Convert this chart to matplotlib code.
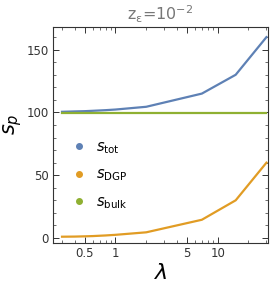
import matplotlib
matplotlib.use('Agg')
import matplotlib.pyplot as plt
from matplotlib.ticker import LogLocator, FixedLocator, NullFormatter, MultipleLocator
from matplotlib.lines import Line2D

# lambda values and entropies
lam = [0.3, 0.4, 0.5, 0.6, 0.8, 1, 2, 7, 15, 30]
s_dgp = [1.0, 1.1, 1.3, 1.5, 2.0, 2.5, 4.5, 14.5, 30, 60]
s_tot = [100.5, 100.8, 101.0, 101.3, 101.8, 102.3, 104.5, 115, 130, 160]
s_bulk = [99.5] * len(lam)

xticks = [0.5, 1, 5, 10]
xticklabels = ['0.5', '1', '5', '10']
yticks = [0, 50, 100, 150]

blue = '#5E81B5'
orange = '#E19C24'
green = '#8FB032'

fig = plt.figure(figsize=(2.72, 2.91), dpi=100)
ax = fig.add_axes([0.195, 0.165, 0.79, 0.742])

ax.plot(lam, s_tot, color=blue, lw=1.6)
ax.plot(lam, s_dgp, color=orange, lw=1.6)
ax.plot(lam, s_bulk, color=green, lw=1.6)

ax.set_xscale('log')
ax.set_xlim(0.245, 31)
ax.set_ylim(-4, 168)

ax.xaxis.set_major_locator(FixedLocator(xticks))
ax.set_xticklabels(xticklabels)
ax.xaxis.set_minor_locator(LogLocator(base=10, subs=range(2, 10)))
ax.xaxis.set_minor_formatter(NullFormatter())
ax.yaxis.set_major_locator(FixedLocator(yticks))
ax.yaxis.set_minor_locator(MultipleLocator(10))

ax.tick_params(which='both', direction='in', top=True, right=True,
               labelsize=8.5, colors='#333333', pad=3)
ax.tick_params(which='major', length=4, width=0.7)
ax.tick_params(which='minor', length=2, width=0.5)
for sp in ax.spines.values():
    sp.set_color('#333333')
    sp.set_linewidth(0.8)

ax.set_xlabel(r'$\lambda$', fontsize=16, labelpad=2)
ax.set_ylabel(r'$s_p$', fontsize=15, labelpad=0)
ax.yaxis.set_label_coords(-0.135, 0.55)
ax.set_title(r'$\mathregular{z_\epsilon}$=10$^{-2}$', fontsize=11.5, color='#777777', pad=5)

handles = [Line2D([], [], ls='', marker='o', ms=4, color=c) for c in (blue, orange, green)]
labels = [r'$s_{\mathrm{tot}}$', r'$s_{\mathrm{DGP}}$', r'$s_{\mathrm{bulk}}$']
ax.legend(handles, labels, loc='center left', bbox_to_anchor=(0.02, 0.315),
          frameon=False, fontsize=10.5, handletextpad=0.55, labelspacing=0.75,
          handlelength=1.2)

fig.savefig('out.png', dpi=100)
